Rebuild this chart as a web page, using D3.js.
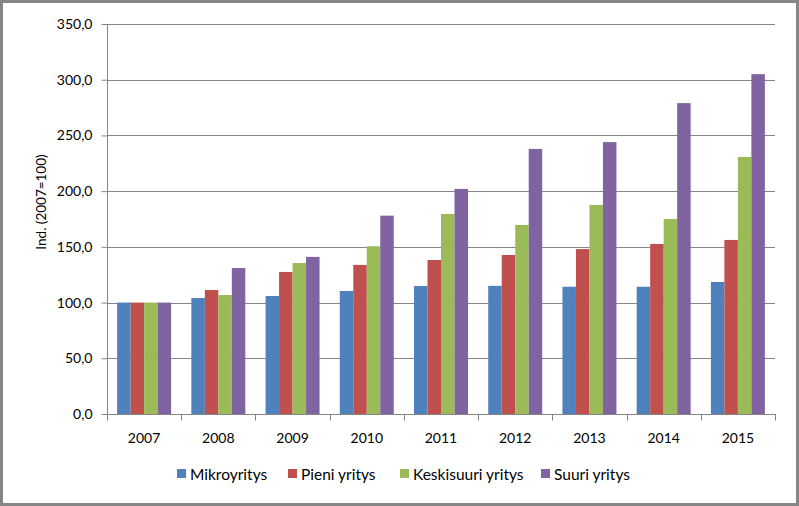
<!DOCTYPE html>
<html><head><meta charset="utf-8">
<script src="https://cdn.jsdelivr.net/npm/d3@7"></script>
<style>
html,body{margin:0;padding:0;background:#fff;}
svg{display:block;font-family:Lato,"Liberation Sans",sans-serif;}
</style></head>
<body>
<svg id="c" width="799" height="506"></svg>
<script>
const years = ["2007","2008","2009","2010","2011","2012","2013","2014","2015"];
const seriesNames = ["Mikroyritys","Pieni yritys","Keskisuuri yritys","Suuri yritys"];
const mikro = [100,104.1,105.9,110.4,114.9,115,114.2,114.2,118.5];
const pieni = [100,111.3,127.5,133.8,138.2,142.7,148,152.6,156.2];
const keski = [100,106.8,135.5,150.5,179.5,169.7,187.6,175,230.7];
const suuri = [100,131,141,178,202,237.9,244,279,305];
const yTicks = [0,50,100,150,200,250,300,350];
const colors = ["#4F81BD","#C0504D","#9BBB59","#8064A2"];
const values = [mikro,pieni,keski,suuri];

const svg = d3.select("#c");
const W=799,H=506;
svg.append("rect").attr("x",1.5).attr("y",1.5).attr("width",W-3).attr("height",H-3)
  .attr("fill","#fff").attr("stroke","#868686").attr("stroke-width",3);

const L=107,R=775,T=24,B=414;
const x = d3.scaleBand().domain(years).range([L,R]).paddingInner(0).paddingOuter(0);
const y = d3.scaleLinear().domain([0,350]).range([B,T]);
const bw = x.bandwidth()/(4+1.5);
const x1 = d3.scaleBand().domain(d3.range(4)).range([bw*0.75, x.bandwidth()-bw*0.75]);

// gridlines
svg.append("g").selectAll("line").data(yTicks.filter(d=>d>0)).join("line")
  .attr("x1",L).attr("x2",R).attr("y1",d=>Math.round(y(d))+0.5).attr("y2",d=>Math.round(y(d))+0.5)
  .attr("stroke","#868686").attr("stroke-width",1);

// bars
const g = svg.append("g");
years.forEach((yr,i)=>{
  values.forEach((arr,s)=>{
    g.append("rect").attr("x",x(yr)+x1(s)).attr("width",x1.bandwidth())
      .attr("y",y(arr[i])).attr("height",B-y(arr[i])).attr("fill",colors[s]);
  });
});

// y axis
const ya = svg.append("g").attr("transform",`translate(${L+0.5},0)`)
  .call(d3.axisLeft(y).tickValues(yTicks).tickSize(6).tickPadding(9)
    .tickFormat(d=>d3.format(".1f")(d).replace(".",",")));
ya.selectAll("path,line").attr("stroke","#868686");
ya.select(".domain").attr("d",`M0,${T}V${B}`);
ya.selectAll("text").attr("font-size",14).attr("fill","#000").attr("font-family","Lato,sans-serif");

// x axis
const xa = svg.append("g").attr("transform",`translate(0,${B+0.5})`);
xa.append("line").attr("x1",L).attr("x2",R+1).attr("stroke","#868686");
xa.selectAll("line.t").data(years.map(d=>x(d)).concat([R])).join("line").attr("class","t")
  .attr("x1",d=>Math.round(d)+0.5).attr("x2",d=>Math.round(d)+0.5).attr("y1",0).attr("y2",6).attr("stroke","#868686");
xa.selectAll("text").data(years).join("text")
  .attr("x",d=>x(d)+x.bandwidth()/2).attr("y",28).attr("text-anchor","middle")
  .attr("font-size",14).attr("fill","#000").text(d=>d);

// y title
svg.append("text").attr("transform",`translate(46,202) rotate(-90)`)
  .attr("text-anchor","middle").attr("font-size",13.5).attr("fill","#000").text("Ind. (2007=100)");

// legend
const legX = [177,288,400,541];
const lg = svg.append("g");
seriesNames.forEach((n,i)=>{
  lg.append("rect").attr("x",legX[i]).attr("y",469).attr("width",9).attr("height",9).attr("fill",colors[i]);
  lg.append("text").attr("x",legX[i]+13).attr("y",479.5).attr("font-size",15.5).attr("fill","#000").text(n);
});
</script>
</body></html>
